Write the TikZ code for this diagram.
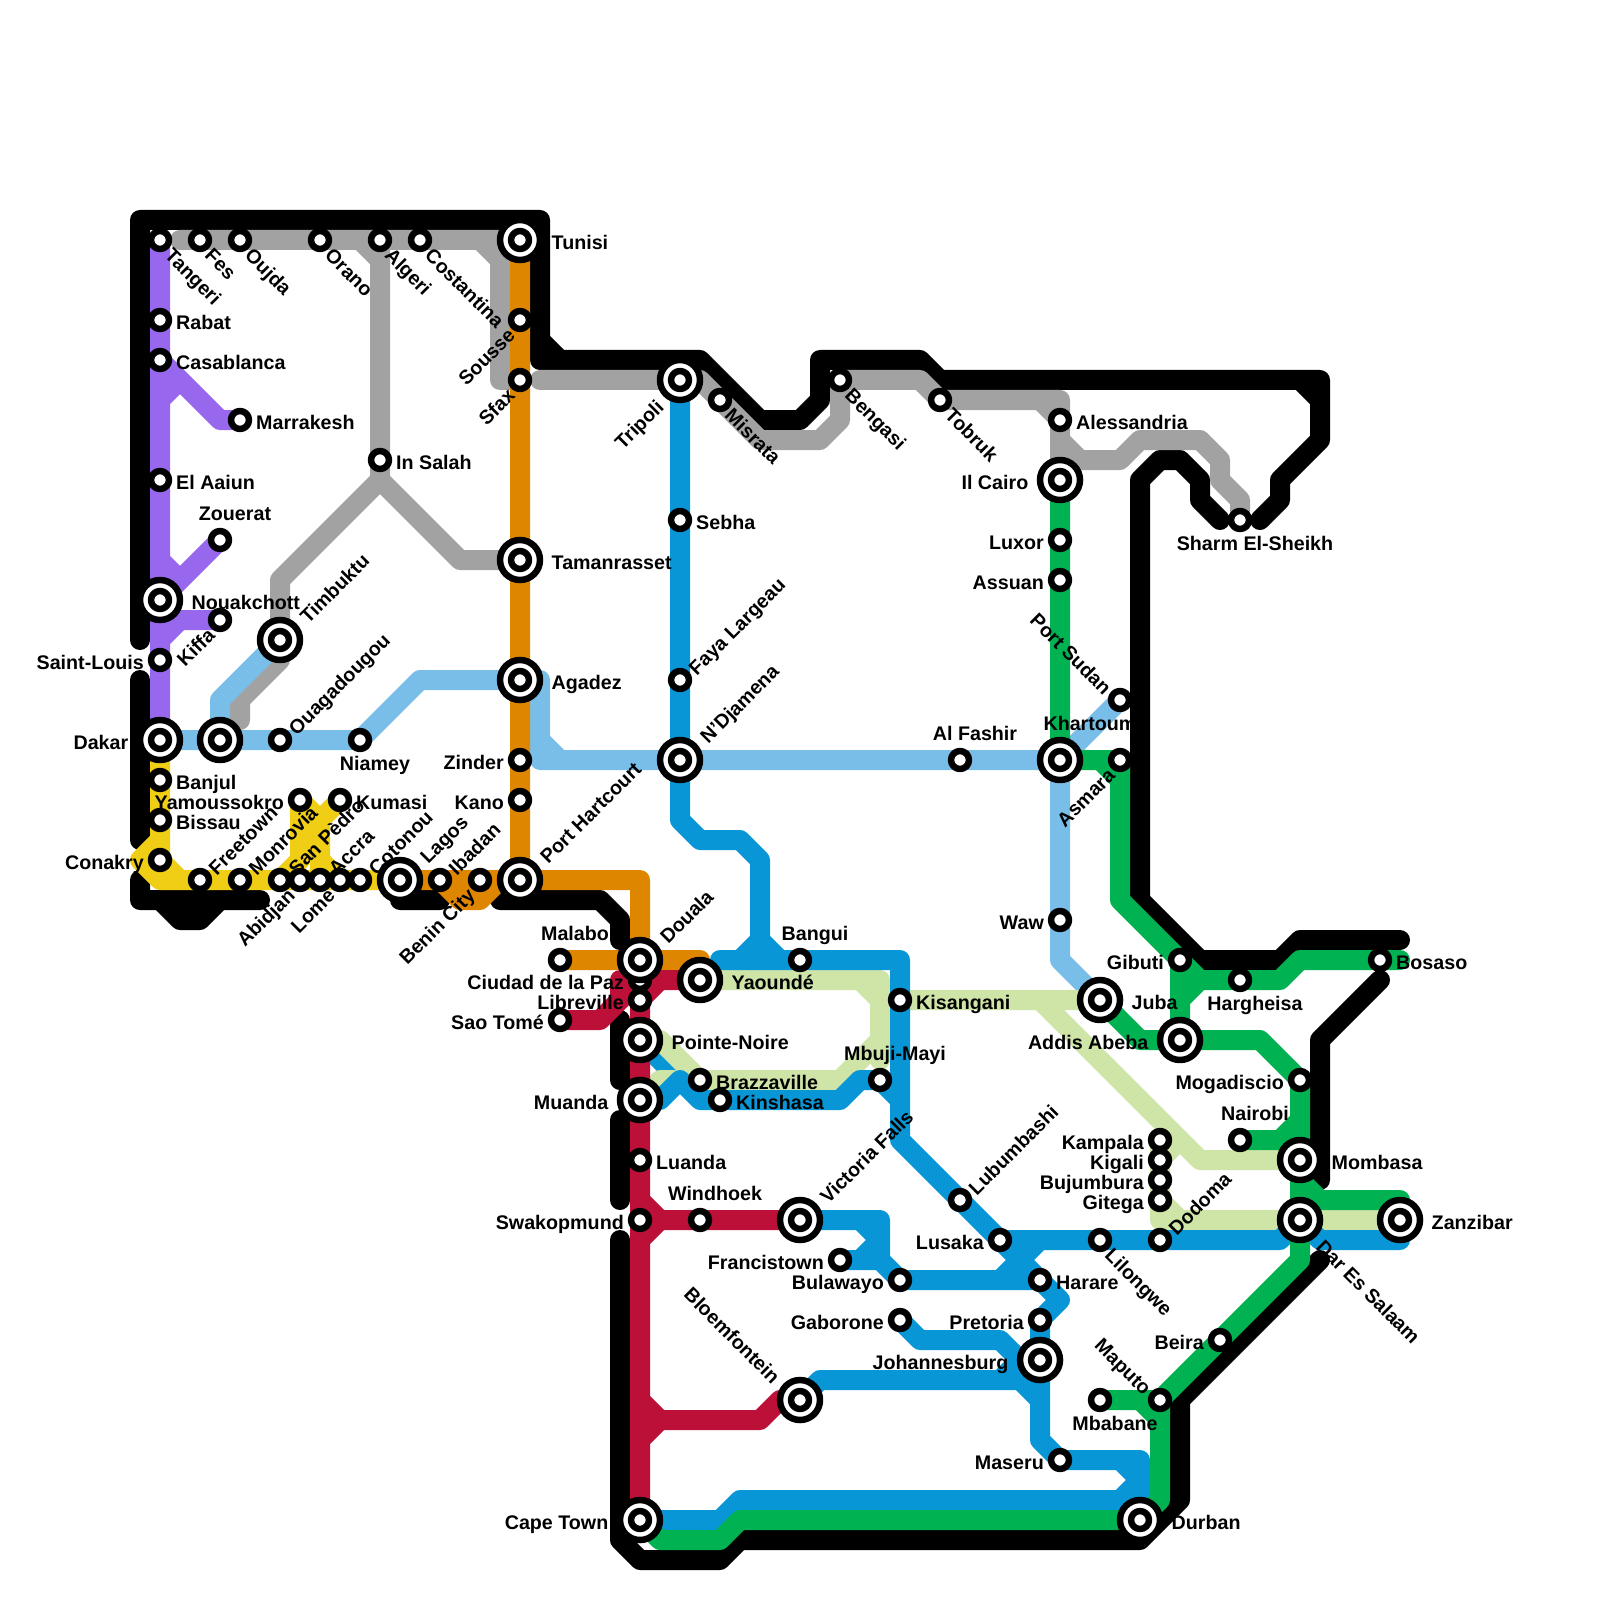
\documentclass[tikz,border=0pt]{standalone}
\usepackage{fontspec}
\setmainfont{Liberation Sans}
\usetikzlibrary{positioning}
\definecolor{lineRed}{HTML}{BD1038}
\definecolor{lineOrange}{HTML}{DF8600}
\definecolor{lineYellow}{HTML}{F0CE15}
\definecolor{lineGreen}{HTML}{00B251}
\definecolor{lineBlue}{HTML}{0896D7}
\definecolor{linePurple}{HTML}{9768EE}
\definecolor{lineGrey}{HTML}{A2A2A2}
\definecolor{lineSky}{HTML}{79BDE9}
\definecolor{linePale}{HTML}{CFE4A7}
\tikzset{
  map line/.style={line width=2mm},
  map stop/.style={circle,draw=black,fill=white,line width=.65mm,inner sep=0pt,minimum size=1.8mm},
  map hub/.style={map stop,minimum size=4mm},
  lbl/.style={font=\fontsize{5.6}{6}\selectfont\bfseries,inner sep=0pt},
  lbl right/.style={lbl,anchor=mid west,xshift=#1},
  lbl right/.default=1.55mm,
  lbl left/.style={lbl,anchor=mid east,xshift=-#1},
  lbl left/.default=1.55mm,
  lbl above/.style={lbl,anchor=base,xshift=#1,yshift=2mm},
  lbl above/.default=1.5mm,
  lbl below/.style={lbl,anchor=base,xshift=1.5mm,yshift=-3mm},
  lbl ne/.style={lbl,rotate=45,anchor=mid west,xshift=#1},
  lbl ne/.default=1.4mm,
  lbl se/.style={lbl,rotate=-45,anchor=mid west,xshift=#1},
  lbl se/.default=1.4mm,
  lbl sw/.style={lbl,rotate=45,anchor=mid east,xshift=-#1},
  lbl sw/.default=1.4mm,
  lbl nw/.style={lbl,rotate=-45,anchor=mid east,xshift=-#1},
  lbl nw/.default=1.4mm
}
\newcommand{\MapStop}[1]{\node[map stop] (stop #1) at (#1) {};}
\newcommand{\MapHub}[1]{\node[map hub] (hub #1) at (#1) {};\node[map stop] (stop #1) at (#1) {};}

\begin{document}
\begin{tikzpicture}[x=2mm,y=-2mm,line cap=round,line join=round]
  \useasboundingbox (0,0) rectangle (80,80);
  % north coast
  \coordinate (tangeri) at (8,12);
  \coordinate (fes) at (10,12);
  \coordinate (oujda) at (12,12);
  \coordinate (orano) at (16,12);
  \coordinate (algeri) at (19,12);
  \coordinate (costantina) at (21,12);
  \coordinate (tunisi) at (26,12);
  \coordinate (sousse) at (26,16);
  \coordinate (sfax) at (26,19);
  \coordinate (tripoli) at (34,19);
  \coordinate (misrata) at (36,20);
  \coordinate (bengasi) at (42,19);
  \coordinate (tobruk) at (47,20);
  \coordinate (alessandria) at (53,21);
  \coordinate (cairo) at (53,24);
  \coordinate (sharm) at (62,26);
  % west
  \coordinate (rabat) at (8,16);
  \coordinate (casablanca) at (8,18);
  \coordinate (marrakesh) at (12,21);
  \coordinate (aaiun) at (8,24);
  \coordinate (zouerat) at (11,27);
  \coordinate (nouakchott) at (8,30);
  \coordinate (kiffa) at (11,31);
  \coordinate (saintlouis) at (8,33);
  \coordinate (dakar) at (8,37);
  \coordinate (banjul) at (8,39);
  \coordinate (bissau) at (8,41);
  \coordinate (conakry) at (8,43);
  \coordinate (freetown) at (10,44);
  \coordinate (monrovia) at (12,44);
  \coordinate (sanpedro) at (14,44);
  \coordinate (abidjan) at (15,44);
  \coordinate (accra) at (16,44);
  \coordinate (lome) at (17,44);
  \coordinate (cotonou) at (18,44);
  \coordinate (lagos) at (20,44);
  \coordinate (ibadan) at (22,44);
  \coordinate (benin) at (24,44);
  \coordinate (harcourt) at (26,44);
  \coordinate (yamoussokro) at (15,40);
  \coordinate (kumasi) at (17,40);
  \coordinate (bamako) at (11,37);
  \coordinate (timbuktu) at (14,32);
  \coordinate (ouaga) at (14,37);
  \coordinate (niamey) at (18,37);
  \coordinate (agadez) at (26,34);
  \coordinate (zinder) at (26,38);
  \coordinate (kano) at (26,40);
  \coordinate (tamanrasset) at (26,28);
  \coordinate (insalah) at (19,23);
  % centre
  \coordinate (sebha) at (34,26);
  \coordinate (faya) at (34,34);
  \coordinate (ndjamena) at (34,38);
  \coordinate (alfashir) at (48,38);
  \coordinate (malabo) at (28,48);
  \coordinate (douala) at (32,48);
  \coordinate (ciudad) at (32,49);
  \coordinate (libreville) at (32,50);
  \coordinate (saotome) at (28,51);
  \coordinate (pointe) at (32,52);
  \coordinate (muanda) at (32,55);
  \coordinate (luanda) at (32,58);
  \coordinate (swakopmund) at (32,61);
  \coordinate (yaounde) at (35,49);
  \coordinate (bangui) at (40,48);
  \coordinate (kisangani) at (45,50);
  \coordinate (mbuji) at (44,54);
  \coordinate (brazzaville) at (35,54);
  \coordinate (kinshasa) at (36,55);
  \coordinate (windhoek) at (35,61);
  \coordinate (vicfalls) at (40,61);
  % south
  \coordinate (francistown) at (42,63);
  \coordinate (bulawayo) at (45,64);
  \coordinate (gaborone) at (45,66);
  \coordinate (bloemfontein) at (40,70);
  \coordinate (capetown) at (32,76);
  \coordinate (durban) at (57,76);
  \coordinate (lubumbashi) at (48,60);
  \coordinate (lusaka) at (50,62);
  \coordinate (harare) at (52,64);
  \coordinate (pretoria) at (52,66);
  \coordinate (johannesburg) at (52,68);
  \coordinate (maseru) at (53,73);
  \coordinate (mbabane) at (55,70);
  \coordinate (maputo) at (58,70);
  \coordinate (beira) at (61,67);
  \coordinate (lilongwe) at (55,62);
  \coordinate (dodoma) at (58,62);
  % east
  \coordinate (luxor) at (53,27);
  \coordinate (assuan) at (53,29);
  \coordinate (portsudan) at (56,35);
  \coordinate (khartoum) at (53,38);
  \coordinate (asmara) at (56,38);
  \coordinate (waw) at (53,46);
  \coordinate (gibuti) at (59,48);
  \coordinate (hargheisa) at (62,49);
  \coordinate (bosaso) at (69,48);
  \coordinate (juba) at (55,50);
  \coordinate (addis) at (59,52);
  \coordinate (mogadiscio) at (65,54);
  \coordinate (nairobi) at (62,57);
  \coordinate (mombasa) at (65,58);
  \coordinate (dar) at (65,61);
  \coordinate (zanzibar) at (70,61);
  \coordinate (kampala) at (58,57);
  \coordinate (kigali) at (58,58);
  \coordinate (bujumbura) at (58,59);
  \coordinate (gitega) at (58,60);

  % black
  \draw[map line,draw=black] (7,32)--(7,11)--(27,11)--(27,18)--(35,18)--(38,21)--(40,21)--(41,20)--(41,18)--(46,18)--(47,19)--(66,19)--(66,22)--(64,24)--(64,25)--(63,26)
        (27,17)--(28,18) (65,19)--(66,20)
        (61,26)--(60,25)--(60,24)--(59,23)--(58,23)--(57,24)--(57,45)--(60,48)--(64,48)--(65,47)--(70,47)
        (7,34)--(7,42)
        (7,44)--(7,45)--(13,45) (8,45)--(9,46)--(10,46)--(11,45)
        (20,45)--(22,45)
        (25,45)--(30,45)--(31,46)--(31,47)
        (31,51)--(31,54) (31,56)--(31,60)
        (31,62)--(31,77)--(32,78)--(36,78)--(37,77)--(57,77)--(59,75)--(59,70)--(66,63)
        (69,49)--(66,52)--(66,59);
  % grey
  \draw[map line,draw=lineGrey] (9,12)--(tunisi) (24,12)--(25,13) (25,12)--(25,19)--(sfax)
        (27,19)--(tripoli)--(35,19)--(38,22)--(41,22)--(42,21)--(bengasi)--(46,19)--(tobruk)--(53,20)--(cairo)
        (52,20)--(alessandria)
        (18,12)--(19,13) (algeri)--(insalah)--(19,24)--(14,29)--(timbuktu)
        (19,24)--(23,28)--(tamanrasset)
        (14,33)--(12,35)--(12,36)
        (53,23)--(56,23)--(57,22)--(60,22)--(61,23)--(61,24)--(62,25)--(sharm)
        (53,22)--(54,23);
  % purple
  \draw[map line,draw=linePurple] (tangeri)--(dakar)
        (casablanca)--(11,21)--(marrakesh) (8,20)--(9,19)
        (zouerat)--(nouakchott) (8,28)--(9,29)
        (kiffa)--(8,31) (9,31)--(8,32);
  % sky blue
  \draw[map line,draw=lineSky] (dakar)--(niamey)--(21,34)--(agadez)--(27,34)--(27,38)--(khartoum)--(53,48)--(juba)
        (27,37)--(28,38)
        (bamako)--(11,35)--(timbuktu)
        (khartoum)--(portsudan);
  % yellow
  \draw[map line,draw=lineYellow] (dakar)--(8,42)--(7,43)--(8,44)--(lagos)
        (dakar)--(conakry)--(9,44)
        (yamoussokro)--(15,43)--(14,44)
        (yamoussokro)--(16,41)--(16,43)--(16,44) (kumasi)--(16,41) (16,43)--(17,44);
  % orange
  \draw[map line,draw=lineOrange] (tunisi)--(harcourt)
        (lagos)--(32,44)--(douala)
        (malabo)--(35,48)--(yaounde)
        (ibadan)--(23,45)--(24,45)--(25,44);
  % blue, first part
  \draw[map line,draw=lineBlue] (pointe)--(34,54);
  % pale green
  \draw[map line,draw=linePale] (yaounde)--(44,49)--(44,53)
        (43,49)--(44,50)--(44,52)--(42,54)--(brazzaville)
        (pointe)--(33,52)--(brazzaville)
        (muanda)--(33,54)--(brazzaville)
        (kisangani)--(juba) (52,50)--(60,58)--(mombasa)
        (kampala)--(58,61)--(zanzibar)
        (gitega)--(59,61)
        (kampala)--(59,57) (kigali)--(59,57);
  % blue
  \draw[map line,draw=lineBlue] (tripoli)--(34,41)--(35,42)--(37,42)--(38,43)--(38,47)--(39,48)--(45,48)--(45,57)--(lusaka)--(64,62)--(dar)--(66,62)--(70,62)--(zanzibar)
        (38,47)--(37,48)--(36,48)--(39,48)
        (muanda)--(33,55)--(34,54)--(35,55)--(42,55)--(43,54)--(mbuji)--(45,55)
        (vicfalls)--(44,61)--(44,63)--(bulawayo)--(50,64)--(harare)
        (43,61)--(44,62)--(43,63)--(francistown)--(44,63)
        (lusaka)--(harare)--(53,65)--(pretoria)--(johannesburg)
        (50,64)--(52,62)
        (gaborone)--(46,67)--(50,67)--(51,68)--(johannesburg)
        (bloemfontein)--(41,69)--(51,69)--(52,70)--(52,72)--(maseru)--(57,73)--(57,76)
        (johannesburg)--(52,70) (50,69)--(51,68)
        (56,73)--(57,74)
        (capetown)--(36,76)--(37,75)--(56,75)--(57,74);
  % red
  \draw[map line,draw=lineRed] (ciudad)--(capetown)
        (saotome)--(30,51)--(ciudad)
        (31,50)--(31,49)--(yaounde)
        (libreville)--(33,49)
        (32,60)--(33,61) (32,62)--(33,61)
        (swakopmund)--(vicfalls)
        (32,70)--(33,71) (32,72)--(33,71)
        (32,71)--(38,71)--(39,70)--(bloemfontein);
  % green
  \draw[map line,draw=lineGreen] (cairo)--(khartoum)--(asmara)--(56,45)--(gibuti)--(60,49)--(64,49)--(65,48)--(70,48)
        (55,38)--(56,39)
        (gibuti)--(addis) (59,50)--(60,49)
        (juba)--(57,52)--(63,52)--(65,54)--(65,63)--(maputo)--(58,75)--(durban)--(37,76)--(36,77)--(33,77)--(capetown)
        (nairobi)--(64,57)--(65,56)
        (65,59)--(66,60)--(70,60)--(zanzibar)
        (mbabane)--(maputo) (57,70)--(58,71);

  \foreach \p in {tangeri,fes,oujda,orano,algeri,costantina,sousse,sfax,misrata,bengasi,tobruk,alessandria,sharm,
      rabat,casablanca,marrakesh,aaiun,zouerat,kiffa,saintlouis,banjul,bissau,conakry,freetown,monrovia,sanpedro,abidjan,accra,lome,cotonou,ibadan,benin,
      yamoussokro,kumasi,ouaga,niamey,zinder,kano,insalah,sebha,faya,alfashir,malabo,ciudad,libreville,saotome,luanda,swakopmund,
      bangui,kisangani,mbuji,brazzaville,kinshasa,windhoek,francistown,bulawayo,gaborone,lubumbashi,lusaka,harare,pretoria,maseru,mbabane,maputo,beira,lilongwe,dodoma,
      luxor,assuan,portsudan,asmara,waw,gibuti,hargheisa,bosaso,mogadiscio,nairobi,kampala,kigali,bujumbura,gitega} {\MapStop{\p}}
  \foreach \p in {tunisi,tripoli,cairo,nouakchott,dakar,lagos,harcourt,bamako,timbuktu,agadez,tamanrasset,ndjamena,douala,pointe,muanda,yaounde,vicfalls,
      bloemfontein,capetown,durban,johannesburg,khartoum,juba,addis,mombasa,dar,zanzibar} {\MapHub{\p}}

  \node[lbl se] (l tangeri) at (tangeri) {Tangeri};
  \node[lbl se] (l fes) at (fes) {Fes};
  \node[lbl se] (l oujda) at (oujda) {Oujda};
  \node[lbl se] (l orano) at (orano) {Orano};
  \node[lbl se] (l algeri) at (algeri) {Algeri};
  \node[lbl se] (l costantina) at (costantina) {Costantina};
  \node[lbl right=3.1mm] (l tunisi) at (tunisi) {Tunisi};
  \node[lbl sw] (l sousse) at (sousse) {Sousse};
  \node[lbl sw] (l sfax) at (sfax) {Sfax};
  \node[lbl sw=3mm] (l tripoli) at (tripoli) {Tripoli};
  \node[lbl se] (l misrata) at (misrata) {Misrata};
  \node[lbl se] (l bengasi) at (bengasi) {Bengasi};
  \node[lbl se] (l tobruk) at (tobruk) {Tobruk};
  \node[lbl right] (l alessandria) at (alessandria) {Alessandria};
  \node[lbl left=3.1mm] (l cairo) at (cairo) {Il Cairo};
  \node[lbl below] (l sharm) at (sharm) {Sharm El-Sheikh};
  \node[lbl right] (l rabat) at (rabat) {Rabat};
  \node[lbl right] (l casablanca) at (casablanca) {Casablanca};
  \node[lbl right] (l marrakesh) at (marrakesh) {Marrakesh};
  \node[lbl right] (l aaiun) at (aaiun) {El Aaiun};
  \node[lbl above] (l zouerat) at (zouerat) {Zouerat};
  \node[lbl right=3.1mm] (l nouakchott) at (nouakchott) {Nouakchott};
  \node[lbl sw] (l kiffa) at (kiffa) {Kiffa};
  \node[lbl left] (l saintlouis) at (saintlouis) {Saint-Louis};
  \node[lbl left=3.1mm] (l dakar) at (dakar) {Dakar};
  \node[lbl right] (l banjul) at (banjul) {Banjul};
  \node[lbl right] (l bissau) at (bissau) {Bissau};
  \node[lbl left] (l conakry) at (conakry) {Conakry};
  \node[lbl ne] (l freetown) at (freetown) {Freetown};
  \node[lbl ne] (l monrovia) at (monrovia) {Monrovia};
  \node[lbl ne] (l sanpedro) at (sanpedro) {San Pèdro};
  \node[lbl sw] (l abidjan) at (abidjan) {Abidjan};
  \node[lbl ne] (l accra) at (accra) {Accra};
  \node[lbl sw] (l lome) at (lome) {Lome};
  \node[lbl ne] (l cotonou) at (cotonou) {Cotonou};
  \node[lbl ne=3mm] (l lagos) at (lagos) {Lagos};
  \node[lbl ne] (l ibadan) at (ibadan) {Ibadan};
  \node[lbl sw] (l benin) at (benin) {Benin City};
  \node[lbl ne=3mm] (l harcourt) at (harcourt) {Port Hartcourt};
  \node[lbl left] (l yamoussokro) at (yamoussokro) {Yamoussokro};
  \node[lbl right] (l kumasi) at (kumasi) {Kumasi};
  \node[lbl above=3mm] (l bamako) at (bamako) {};
  \node[lbl ne=3mm] (l timbuktu) at (timbuktu) {Timbuktu};
  \node[lbl ne] (l ouaga) at (ouaga) {Ouagadougou};
  \node[lbl below] (l niamey) at (niamey) {Niamey};
  \node[lbl right=3.1mm] (l agadez) at (agadez) {Agadez};
  \node[lbl left] (l zinder) at (zinder) {Zinder};
  \node[lbl left] (l kano) at (kano) {Kano};
  \node[lbl right=3.1mm] (l tamanrasset) at (tamanrasset) {Tamanrasset};
  \node[lbl right] (l insalah) at (insalah) {In Salah};
  \node[lbl right] (l sebha) at (sebha) {Sebha};
  \node[lbl ne] (l faya) at (faya) {Faya Largeau};
  \node[lbl ne=3mm] (l ndjamena) at (ndjamena) {N'Djamena};
  \node[lbl above] (l alfashir) at (alfashir) {Al Fashir};
  \node[lbl above] (l malabo) at (malabo) {Malabo};
  \node[lbl ne=3mm] (l douala) at (douala) {Douala};
  \node[lbl left] (l ciudad) at (ciudad) {Ciudad de la Paz};
  \node[lbl left] (l libreville) at (libreville) {Libreville};
  \node[lbl left] (l saotome) at (saotome) {Sao Tomé};
  \node[lbl right=3.1mm] (l pointe) at (pointe) {Pointe-Noire};
  \node[lbl left=3.1mm] (l muanda) at (muanda) {Muanda};
  \node[lbl right] (l luanda) at (luanda) {Luanda};
  \node[lbl left] (l swakopmund) at (swakopmund) {Swakopmund};
  \node[lbl right=3.1mm] (l yaounde) at (yaounde) {Yaoundé};
  \node[lbl above] (l bangui) at (bangui) {Bangui};
  \node[lbl right] (l kisangani) at (kisangani) {Kisangani};
  \node[lbl above] (l mbuji) at (mbuji) {Mbuji-Mayi};
  \node[lbl right] (l brazzaville) at (brazzaville) {Brazzaville};
  \node[lbl right] (l kinshasa) at (kinshasa) {Kinshasa};
  \node[lbl above] (l windhoek) at (windhoek) {Windhoek};
  \node[lbl ne=3mm] (l vicfalls) at (vicfalls) {Victoria Falls};
  \node[lbl left] (l francistown) at (francistown) {Francistown};
  \node[lbl left] (l bulawayo) at (bulawayo) {Bulawayo};
  \node[lbl left] (l gaborone) at (gaborone) {Gaborone};
  \node[lbl nw=3mm] (l bloemfontein) at (bloemfontein) {Bloemfontein};
  \node[lbl left=3.1mm] (l capetown) at (capetown) {Cape Town};
  \node[lbl right=3.1mm] (l durban) at (durban) {Durban};
  \node[lbl ne] (l lubumbashi) at (lubumbashi) {Lubumbashi};
  \node[lbl left] (l lusaka) at (lusaka) {Lusaka};
  \node[lbl right] (l harare) at (harare) {Harare};
  \node[lbl left] (l pretoria) at (pretoria) {Pretoria};
  \node[lbl left=3.1mm] (l johannesburg) at (johannesburg) {Johannesburg};
  \node[lbl left] (l maseru) at (maseru) {Maseru};
  \node[lbl below] (l mbabane) at (mbabane) {Mbabane};
  \node[lbl nw] (l maputo) at (maputo) {Maputo};
  \node[lbl left] (l beira) at (beira) {Beira};
  \node[lbl se] (l lilongwe) at (lilongwe) {Lilongwe};
  \node[lbl ne] (l dodoma) at (dodoma) {Dodoma};
  \node[lbl left] (l luxor) at (luxor) {Luxor};
  \node[lbl left] (l assuan) at (assuan) {Assuan};
  \node[lbl nw] (l portsudan) at (portsudan) {Port Sudan};
  \node[lbl above=3mm,yshift=1mm] (l khartoum) at (khartoum) {Khartoum};
  \node[lbl sw] (l asmara) at (asmara) {Asmara};
  \node[lbl left] (l waw) at (waw) {Waw};
  \node[lbl left] (l gibuti) at (gibuti) {Gibuti};
  \node[lbl below] (l hargheisa) at (hargheisa) {Hargheisa};
  \node[lbl right] (l bosaso) at (bosaso) {Bosaso};
  \node[lbl right=3.1mm] (l juba) at (juba) {Juba};
  \node[lbl left=3.1mm] (l addis) at (addis) {Addis Abeba};
  \node[lbl left] (l mogadiscio) at (mogadiscio) {Mogadiscio};
  \node[lbl above] (l nairobi) at (nairobi) {Nairobi};
  \node[lbl right=3.1mm] (l mombasa) at (mombasa) {Mombasa};
  \node[lbl se=3mm] (l dar) at (dar) {Dar Es Salaam};
  \node[lbl right=3.1mm] (l zanzibar) at (zanzibar) {Zanzibar};
  \node[lbl left] (l kampala) at (kampala) {Kampala};
  \node[lbl left] (l kigali) at (kigali) {Kigali};
  \node[lbl left] (l bujumbura) at (bujumbura) {Bujumbura};
  \node[lbl left] (l gitega) at (gitega) {Gitega};
\end{tikzpicture}
\end{document}
